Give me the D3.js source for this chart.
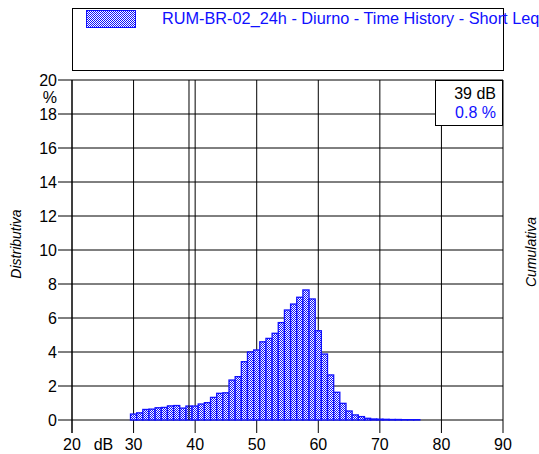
<!DOCTYPE html>
<html>
<head>
<meta charset="utf-8">
<script src="https://cdn.jsdelivr.net/npm/d3@7"></script>
<style>
  html, body { margin: 0; padding: 0; background: #fff; overflow: hidden; }
  svg { display: block; font-family: "Liberation Sans", Arial, sans-serif; }
</style>
</head>
<body>
<div id="chart"></div>
<script>
// level classes (dB, 1 dB bins) and distribution (%)
const levels = [30, 31, 32, 33, 34, 35, 36, 37, 38, 39, 40, 41, 42, 43, 44, 45, 46, 47, 48, 49,
                50, 51, 52, 53, 54, 55, 56, 57, 58, 59, 60, 61, 62, 63, 64, 65, 66, 67, 68, 69,
                70, 71, 72, 73, 74, 75, 76];
const percents = [0.35, 0.42, 0.62, 0.64, 0.72, 0.74, 0.83, 0.85, 0.70, 0.82, 0.82, 0.94, 1.02, 1.33, 1.57, 1.60, 2.35, 2.55, 3.43, 4.00,
                  4.12, 4.60, 4.80, 5.10, 5.73, 6.47, 6.82, 7.22, 7.65, 7.12, 5.25, 3.88, 2.65, 1.63, 0.98, 0.53, 0.30, 0.20, 0.10, 0.06,
                  0.05, 0.04, 0.03, 0.03, 0.02, 0.02, 0.02];
const xTicks = [20, 30, 40, 50, 60, 70, 80, 90];
const yTicks = [0, 2, 4, 6, 8, 10, 12, 14, 16, 18, 20];
const seriesName = "RUM-BR-02_24h - Diurno - Time History - Short Leq";
const cursorLevel = 39;
const cursorValue = 0.8;

const W = 539, H = 454;
const blue = "#1010ff";

const svg = d3.select("#chart").append("svg")
    .attr("width", W)
    .attr("height", H);

// checker fill used for bars and legend swatch
const pat = svg.append("defs").append("pattern")
    .attr("id", "checker")
    .attr("patternUnits", "userSpaceOnUse")
    .attr("width", 2).attr("height", 2);
pat.append("rect").attr("width", 2).attr("height", 2).attr("fill", "#fff");
pat.append("rect").attr("width", 1).attr("height", 1).attr("fill", blue);
pat.append("rect").attr("x", 1).attr("y", 1).attr("width", 1).attr("height", 1).attr("fill", blue);

const x = d3.scaleLinear().domain([20, 90]).range([72, 503]);
const y = d3.scaleLinear().domain([0, 20]).range([420, 80]);

// legend box
svg.append("rect")
    .attr("x", 72.5).attr("y", 8.5)
    .attr("width", 431).attr("height", 62)
    .attr("fill", "#fff").attr("stroke", "#000");
svg.append("rect")
    .attr("x", 86.5).attr("y", 10.5)
    .attr("width", 49).attr("height", 17)
    .attr("fill", "url(#checker)").attr("stroke", blue);
svg.append("text")
    .attr("x", 162).attr("y", 24)
    .attr("font-size", 16.3)
    .attr("fill", blue)
    .text(seriesName);

// grid
const grid = svg.append("g").attr("stroke", "#000").attr("stroke-width", 1);
grid.selectAll(".hg").data(yTicks).enter().append("line")
    .attr("x1", x(20)).attr("x2", x(90))
    .attr("y1", d => y(d)).attr("y2", d => y(d));
grid.selectAll(".vg").data(xTicks).enter().append("line")
    .attr("x1", d => x(d)).attr("x2", d => x(d))
    .attr("y1", y(20)).attr("y2", y(0) + 13);

// bars
svg.append("g").selectAll("rect")
    .data(levels.map((l, i) => ({ level: l, value: percents[i] })))
    .enter().append("rect")
    .attr("x", d => x(d.level - 0.5))
    .attr("width", d => x(d.level + 0.5) - x(d.level - 0.5))
    .attr("y", d => y(d.value))
    .attr("height", d => y(0) - y(d.value))
    .attr("fill", "url(#checker)")
    .attr("stroke", blue)
    .attr("stroke-width", 1.3);

// cursor
svg.append("line")
    .attr("x1", x(cursorLevel)).attr("x2", x(cursorLevel))
    .attr("y1", y(20)).attr("y2", y(0))
    .attr("stroke", "#000");

// y axis
svg.append("line")
    .attr("x1", x(20)).attr("x2", x(20))
    .attr("y1", y(20)).attr("y2", y(0) + 13)
    .attr("stroke", "#000");
svg.selectAll(".yt").data(yTicks).enter().append("line")
    .attr("x1", 58).attr("x2", x(20))
    .attr("y1", d => y(d)).attr("y2", d => y(d))
    .attr("stroke", "#000");
svg.selectAll(".yl").data(yTicks).enter().append("text")
    .attr("x", 57).attr("y", d => y(d))
    .attr("dy", "0.36em")
    .attr("text-anchor", "end")
    .attr("font-size", 16)
    .text(d => d);
svg.append("text")
    .attr("x", 57).attr("y", 103)
    .attr("text-anchor", "end")
    .attr("font-size", 16)
    .text("%");

// x axis labels
svg.selectAll(".xl").data(xTicks).enter().append("text")
    .attr("x", d => x(d)).attr("y", 450)
    .attr("text-anchor", "middle")
    .attr("font-size", 16)
    .text(d => d);
svg.append("text")
    .attr("x", 103.5).attr("y", 450)
    .attr("text-anchor", "middle")
    .attr("font-size", 16)
    .text("dB");

// axis titles
svg.append("text")
    .attr("transform", "translate(21,244) rotate(-90)")
    .attr("text-anchor", "middle")
    .attr("font-size", 14)
    .attr("font-style", "italic")
    .text("Distributiva");
svg.append("text")
    .attr("transform", "translate(536,252) rotate(-90)")
    .attr("text-anchor", "middle")
    .attr("font-size", 14)
    .attr("font-style", "italic")
    .text("Cumulativa");

// cursor readout box
svg.append("rect")
    .attr("x", 435.5).attr("y", 80.5)
    .attr("width", 67).attr("height", 45)
    .attr("fill", "#fff").attr("stroke", "#000");
svg.append("text")
    .attr("x", 496).attr("y", 99)
    .attr("text-anchor", "end")
    .attr("font-size", 16)
    .text(cursorLevel + " dB");
svg.append("text")
    .attr("x", 496).attr("y", 118)
    .attr("text-anchor", "end")
    .attr("font-size", 16)
    .attr("fill", blue)
    .text(cursorValue + " %");
</script>
</body>
</html>
